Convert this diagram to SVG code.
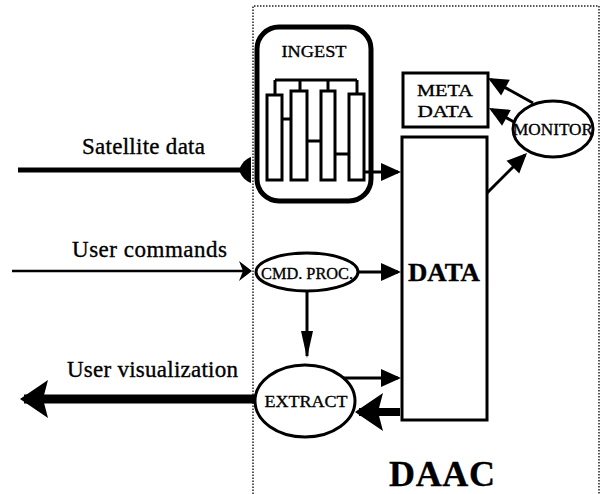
<svg xmlns="http://www.w3.org/2000/svg" width="602" height="494" viewBox="0 0 602 494">
<style>
  .t { font-family: "Liberation Serif", "Times New Roman", serif; fill: #000; stroke: #000; stroke-width: 0.35; }
  .lbl { font-size: 23px; }
  .nd { font-size: 17px; text-anchor: middle; }
  .b { font-weight: bold; text-anchor: middle; }
  .box { fill: #fff; stroke: #000; stroke-width: 3; }
  .ln { fill: none; stroke: #000; }
  .border { fill: none; stroke: #222; stroke-width: 1.5; stroke-dasharray: 1.5 1.5; }
</style>
<defs>
  <marker id="ah" markerUnits="userSpaceOnUse" markerWidth="22" markerHeight="20" refX="17" refY="9" orient="auto" overflow="visible">
    <path d="M0,0 L20,9 L0,18 Z" fill="#000"/>
  </marker>
  <marker id="thin" markerUnits="userSpaceOnUse" markerWidth="28" markerHeight="14" refX="25" refY="6" orient="auto" overflow="visible">
    <path d="M0,0 L27,6 L0,12 Z" fill="#000"/>
  </marker>
  <marker id="big" markerUnits="userSpaceOnUse" markerWidth="30" markerHeight="40" refX="24" refY="19" orient="auto" overflow="visible">
    <path d="M0,0 L28,19 L0,38 L5,19 Z" fill="#000"/>
  </marker>
</defs>

<rect width="602" height="494" fill="#fff"/>

<g id="daac">
  <path class="border" d="M253,494 L253,6 L599,6 L599,494"/>
  <text class="t b" x="442" y="486" font-size="36" textLength="106">DAAC</text>
</g>

<g id="ingest">
  <rect x="257" y="27" width="114" height="174" rx="22" fill="#fff" stroke="#000" stroke-width="5"/>
  <text class="t nd" x="314" y="57" font-size="18" textLength="65" lengthAdjust="spacingAndGlyphs">INGEST</text>
  <path class="ln" stroke-width="3" d="M275,80 L357,80 M275,80 L275,95 M300,80 L300,91 M328,80 L328,91 M357,80 L357,94"/>
  <rect class="box" x="267" y="95" width="15" height="85"/>
  <rect class="box" x="291" y="91" width="16" height="89"/>
  <rect class="box" x="321" y="91" width="14" height="89"/>
  <rect class="box" x="349" y="94" width="15" height="86"/>
  <path class="ln" stroke-width="3" d="M282,119 L291,119 M307,141 L321,141 M335,154 L349,154"/>
</g>

<g id="metadata">
  <rect class="box" x="403" y="73" width="85" height="54"/>
  <text class="t nd" x="445" y="96" font-size="20" textLength="56" lengthAdjust="spacingAndGlyphs">META</text>
  <text class="t nd" x="445" y="117" font-size="20" textLength="55" lengthAdjust="spacingAndGlyphs">DATA</text>
</g>

<g id="data">
  <rect class="box" x="402" y="137" width="85" height="283"/>
  <text class="t b" x="444" y="281" font-size="25" textLength="72" lengthAdjust="spacingAndGlyphs">DATA</text>
</g>

<g id="monitor">
  <ellipse cx="553" cy="129" rx="40" ry="28" fill="#fff" stroke="#000" stroke-width="3"/>
  <text class="t nd" x="553" y="135" font-size="16" textLength="80" lengthAdjust="spacingAndGlyphs">MONITOR</text>
</g>

<g id="cmdproc">
  <ellipse cx="307" cy="272" rx="51" ry="19" fill="#fff" stroke="#000" stroke-width="3"/>
  <text class="t nd" x="307" y="279" font-size="15" textLength="92" lengthAdjust="spacingAndGlyphs">CMD. PROC.</text>
</g>

<g id="extract">
  <ellipse cx="305" cy="401" rx="50" ry="36" fill="#fff" stroke="#000" stroke-width="3"/>
  <text class="t nd" x="306" y="407" font-size="17" textLength="83" lengthAdjust="spacingAndGlyphs">EXTRACT</text>
</g>

<g id="labels">
  <text class="t lbl" x="82" y="154" textLength="123">Satellite data</text>
  <text class="t lbl" x="72" y="257" textLength="155">User commands</text>
  <text class="t lbl" x="67" y="377" textLength="171">User visualization</text>
</g>

<g id="connectors">
  <path class="ln" stroke-width="5" d="M18,170 L241,170"/>
  <path d="M239,170 C242,162 246,159 251,157 L251,183 C246,181 242,178 239,170 Z" fill="#000"/>
  <path class="ln" stroke-width="3" d="M364,172 L398,172" marker-end="url(#ah)"/>
  <path class="ln" stroke-width="2.5" d="M12,271 L244,271"/>
  <path d="M239,261 L252,271 L239,281 L243,271 Z" fill="#000"/>
  <path class="ln" stroke-width="3" d="M358,272 L398,272" marker-end="url(#ah)"/>
  <path class="ln" stroke-width="3" d="M307,291 L307,356" marker-end="url(#thin)"/>
  <path class="ln" stroke-width="3" d="M343,378 L398,378" marker-end="url(#ah)"/>
  <path class="ln" stroke-width="8" d="M400,412 L359,412" marker-end="url(#big)"/>
  <path class="ln" stroke-width="9" d="M256,399 L24,399" marker-end="url(#big)"/>
  <path class="ln" stroke-width="3" d="M533,103 L490.6,79.5" marker-end="url(#ah)"/>
  <path class="ln" stroke-width="3" d="M514,122 L491.6,109.5" marker-end="url(#ah)"/>
  <path class="ln" stroke-width="3" d="M487,193 L524.9,155.1" marker-end="url(#ah)"/>
</g>
</svg>
